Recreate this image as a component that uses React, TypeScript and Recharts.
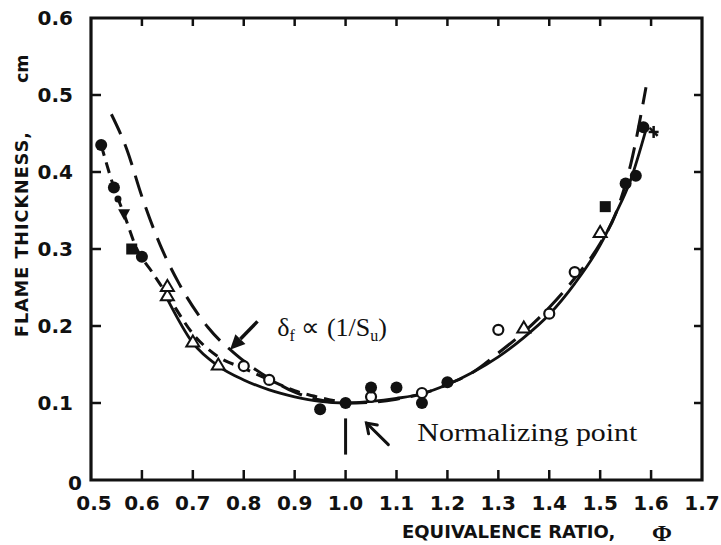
import React from 'react';
import { ComposedChart, Line, Scatter, XAxis, YAxis, ReferenceLine, ReferenceDot } from 'recharts';

// ---------- data ----------
const X_TICKS = [0.5, 0.6, 0.7, 0.8, 0.9, 1.0, 1.1, 1.2, 1.3, 1.4, 1.5, 1.6, 1.7];
const Y_TICKS = [0, 0.1, 0.2, 0.3, 0.4, 0.5, 0.6];
const X_DOMAIN: [number, number] = [0.5, 1.7];
const Y_DOMAIN: [number, number] = [0, 0.6];

// long-dashed curve: delta_f proportional to 1/Su
const SU_CURVE: [number, number][] = [
  [0.54, 0.475], [0.57, 0.43], [0.6, 0.368], [0.636, 0.305], [0.673, 0.255], [0.73, 0.198],
  [0.79, 0.16], [0.85, 0.132], [0.9, 0.114], [0.95, 0.104], [1.0, 0.1], [1.05, 0.101],
  [1.1, 0.105], [1.15, 0.112], [1.2, 0.124], [1.25, 0.14], [1.3, 0.165], [1.35, 0.192],
  [1.4, 0.224], [1.45, 0.262], [1.5, 0.307], [1.53, 0.345], [1.56, 0.41], [1.59, 0.51],
];

// short-dashed curve through lean data
const LEAN_FIT: [number, number][] = [
  [0.52, 0.435], [0.545, 0.38], [0.565, 0.345], [0.59, 0.3], [0.62, 0.27], [0.65, 0.24],
  [0.7, 0.19], [0.75, 0.16], [0.8, 0.145], [0.85, 0.13], [0.9, 0.116], [0.95, 0.107], [1.0, 0.1],
];

// solid curve
const SOLID_FIT: [number, number][] = [
  [0.65, 0.235], [0.7, 0.178], [0.75, 0.148], [0.8, 0.13], [0.85, 0.117], [0.9, 0.108],
  [0.95, 0.102], [1.0, 0.1], [1.05, 0.102], [1.1, 0.106], [1.15, 0.112], [1.2, 0.124],
  [1.25, 0.14], [1.3, 0.16], [1.35, 0.185], [1.4, 0.215], [1.45, 0.255], [1.5, 0.305],
  [1.53, 0.345], [1.56, 0.39], [1.59, 0.455],
];

const FILLED_CIRCLES: [number, number][] = [
  [0.52, 0.435], [0.545, 0.38], [0.6, 0.29], [0.95, 0.092], [1.0, 0.1], [1.05, 0.12],
  [1.1, 0.12], [1.15, 0.1], [1.2, 0.127], [1.55, 0.385], [1.57, 0.395], [1.585, 0.458],
];
const SMALL_DOTS: [number, number][] = [[0.553, 0.365]];
const FILLED_TRIANGLES: [number, number][] = [[0.565, 0.345]];
const FILLED_SQUARES: [number, number][] = [[0.58, 0.3], [1.51, 0.355]];
const OPEN_TRIANGLES: [number, number][] = [
  [0.65, 0.24], [0.65, 0.252], [0.7, 0.18], [0.75, 0.15], [1.35, 0.198], [1.5, 0.322],
];
const OPEN_CIRCLES: [number, number][] = [
  [0.8, 0.148], [0.85, 0.13], [1.05, 0.108], [1.15, 0.113], [1.3, 0.195], [1.4, 0.216], [1.45, 0.27],
];
const CROSSES: [number, number][] = [[1.605, 0.452]];

// annotations (data coordinates)
const SU_LABEL = { x: 0.866, y: 0.1875 };
const SU_ARROW: [number, number][] = [[0.827, 0.206], [0.773, 0.169]];
const NORM_LABEL = { x: 1.141, y: 0.051, text: 'Normalizing point' };
const NORM_ARROW: [number, number][] = [[1.084, 0.046], [1.041, 0.074]];
const NORM_STEM: [number, number][] = [[1.0, 0.08], [1.0, 0.033]];

const toPts = (a: [number, number][]) => a.map(([x, y]) => ({ x, y }));

// ---------- layout ----------
const W = 721;
const H = 545;
const PL = 91;
const PR = 701;
const PT = 19;
const PB = 480;
const AX = 1;
const M = { top: PT - AX, right: W - PR - AX, bottom: H - PB - AX, left: PL - AX };
const SANS = 'DejaVu Sans, sans-serif';
const SERIF = 'Liberation Serif, Times New Roman, serif';
const INK = '#111';

const near = (a: number, b: number) => Math.abs(a - b) < 1e-6;
const [X0, X1] = X_DOMAIN;
const [Y0, Y1] = Y_DOMAIN;
const INNER_X = X_TICKS.filter((v) => !near(v, X0) && !near(v, X1));
const INNER_Y = Y_TICKS.filter((v) => !near(v, Y0) && !near(v, Y1));

// plot frame as a closed outline in data space; inward tick marks placed on it
const FRAME = [{ x: X0, y: Y0 }, { x: X1, y: Y0 }, { x: X1, y: Y1 }, { x: X0, y: Y1 }, { x: X0, y: Y0 }];
const BOTTOM_TICK_PTS = INNER_X.map((x) => ({ x, y: Y0 }));
const TOP_TICK_PTS = INNER_X.map((x) => ({ x, y: Y1 }));
const LEFT_TICK_PTS = INNER_Y.map((y) => ({ x: X0, y }));
const RIGHT_TICK_PTS = INNER_Y.map((y) => ({ x: X1, y }));

const BottomTick = (p: any) => {
  const v = p.payload.value;
  return (
    <text x={p.x + (near(v, 0.5) ? 3 : 0)} y={PB + 30} textAnchor="middle" fontFamily={SANS}
      fontWeight="bold" fontSize={20} fill={INK}>{v.toFixed(1)}</text>
  );
};

const LeftTick = (p: any) => {
  const v = p.payload.value;
  if (near(v, 0)) {
    return (
      <text x={PL - 9} y={p.y + 10} textAnchor="end" fontFamily={SANS} fontWeight="bold"
        fontSize={20} fill={INK}>0</text>
    );
  }
  return (
    <text x={PL - 18} y={p.y + 7} textAnchor="end" fontFamily={SANS} fontWeight="bold"
      fontSize={20} fill={INK}>{v.toFixed(1)}</text>
  );
};

const tickUp = (p: any) => <line x1={p.cx} x2={p.cx} y1={p.cy} y2={p.cy - 10} stroke={INK} strokeWidth={2.5} />;
const tickDown = (p: any) => <line x1={p.cx} x2={p.cx} y1={p.cy} y2={p.cy + 8} stroke={INK} strokeWidth={2.5} />;
const tickRight = (p: any) => <line x1={p.cx} x2={p.cx + 10} y1={p.cy} y2={p.cy} stroke={INK} strokeWidth={2.5} />;
const tickLeft = (p: any) => <line x1={p.cx} x2={p.cx - 8} y1={p.cy} y2={p.cy} stroke={INK} strokeWidth={2.5} />;

const filledCircle = (p: any) => <circle cx={p.cx} cy={p.cy} r={6} fill={INK} />;
const smallDot = (p: any) => <circle cx={p.cx} cy={p.cy} r={3.5} fill={INK} />;
const openCircle = (p: any) => (
  <circle cx={p.cx} cy={p.cy} r={5} fill="#fff" stroke={INK} strokeWidth={2.2} />
);
const openTriangle = (p: any) => (
  <polygon points={`${p.cx - 6.5},${p.cy + 5} ${p.cx + 6.5},${p.cy + 5} ${p.cx},${p.cy - 6}`}
    fill="#fff" stroke={INK} strokeWidth={2} />
);
const filledTriangle = (p: any) => (
  <polygon points={`${p.cx - 6},${p.cy - 5} ${p.cx + 6},${p.cy - 5} ${p.cx},${p.cy + 6}`} fill={INK} />
);
const filledSquare = (p: any) => (
  <rect x={p.cx - 5.5} y={p.cy - 5.5} width={11} height={11} fill={INK} />
);
const cross = (p: any) => (
  <g stroke={INK} strokeWidth={2.5}>
    <line x1={p.cx - 5} x2={p.cx + 5} y1={p.cy} y2={p.cy} />
    <line x1={p.cx} x2={p.cx} y1={p.cy - 6} y2={p.cy + 6} />
    <line x1={p.cx - 4} x2={p.cx + 4} y1={p.cy - 4} y2={p.cy + 4} />
  </g>
);

const getEnds = (p: any) => {
  const x1 = Number(p.x1 ?? p.points?.[0]?.x);
  const y1 = Number(p.y1 ?? p.points?.[0]?.y);
  const x2 = Number(p.x2 ?? p.points?.[1]?.x);
  const y2 = Number(p.y2 ?? p.points?.[1]?.y);
  return { x1, y1, x2, y2 };
};
const bad = (e: any) => [e.x1, e.y1, e.x2, e.y2].some((v) => !isFinite(v));

const StemLine = (p: any) => {
  const e = getEnds(p);
  if (bad(e)) return <g />;
  return <line x1={e.x1} y1={e.y1} x2={e.x2} y2={e.y2} stroke={INK} strokeWidth={3} />;
};

const SolidArrow = (p: any) => {
  const e = getEnds(p);
  if (bad(e)) return <g />;
  const { x1, y1, x2, y2 } = e;
  const a = Math.atan2(y2 - y1, x2 - x1);
  const L = 15, Wd = 7;
  const bx = x2 - L * Math.cos(a), by = y2 - L * Math.sin(a);
  const nx = -Math.sin(a), ny = Math.cos(a);
  return (
    <g>
      <line x1={x1} y1={y1} x2={bx} y2={by} stroke={INK} strokeWidth={3.5} />
      <polygon points={`${x2},${y2} ${bx + nx * Wd},${by + ny * Wd} ${bx - nx * Wd},${by - ny * Wd}`} fill={INK} />
    </g>
  );
};

const OpenArrow = (p: any) => {
  const e = getEnds(p);
  if (bad(e)) return <g />;
  const { x1, y1, x2, y2 } = e;
  const a = Math.atan2(y2 - y1, x2 - x1);
  const L = 11;
  const h1x = x2 - L * Math.cos(a - 0.6), h1y = y2 - L * Math.sin(a - 0.6);
  const h2x = x2 - L * Math.cos(a + 0.6), h2y = y2 - L * Math.sin(a + 0.6);
  return (
    <g stroke={INK} strokeWidth={3} strokeLinecap="round" fill="none">
      <line x1={x1} y1={y1} x2={x2} y2={y2} />
      <polyline points={`${h1x},${h1y} ${x2},${y2} ${h2x},${h2y}`} />
    </g>
  );
};

const SuLabel = (p: any) => (
  <text x={p.cx} y={p.cy} fontFamily={SERIF} fontSize={26} fill={INK}>
    δ<tspan fontSize={16} dy={5}>f</tspan>
    <tspan dy={-5}>{' ∝ (1/S'}</tspan>
    <tspan fontSize={16} dy={5}>u</tspan>
    <tspan dy={-5}>)</tspan>
  </text>
);

const NormLabel = (p: any) => (
  <text x={p.cx} y={p.cy} fontFamily={SERIF} fontSize={26} fill={INK}
    textLength={220} lengthAdjust="spacingAndGlyphs">{NORM_LABEL.text}</text>
);

export default function App() {
  return (
    <div style={{ position: 'absolute', left: 0, top: 0, width: W, height: H, background: '#fff' }}>
      <ComposedChart width={W} height={H} margin={M}>
        <XAxis dataKey="x" type="number" domain={X_DOMAIN} ticks={X_TICKS}
          interval={0} height={AX} tickLine={false} axisLine={false}
          tick={(p: any) => <BottomTick {...p} />} />
        <YAxis dataKey="y" type="number" domain={Y_DOMAIN} ticks={Y_TICKS}
          interval={0} width={AX} tickLine={false} axisLine={false}
          tick={(p: any) => <LeftTick {...p} />} />

        {/* frame and inward ticks */}
        <Line data={FRAME} dataKey="y" type="linear" stroke={INK} strokeWidth={3.2}
          strokeLinejoin="miter" strokeLinecap="square" dot={false} isAnimationActive={false} />
        <Scatter data={BOTTOM_TICK_PTS} dataKey="y" shape={tickUp} isAnimationActive={false} />
        <Scatter data={TOP_TICK_PTS} dataKey="y" shape={tickDown} isAnimationActive={false} />
        <Scatter data={LEFT_TICK_PTS} dataKey="y" shape={tickRight} isAnimationActive={false} />
        <Scatter data={RIGHT_TICK_PTS} dataKey="y" shape={tickLeft} isAnimationActive={false} />

        <Line data={toPts(SU_CURVE)} dataKey="y" type="monotone" stroke={INK} strokeWidth={3}
          strokeDasharray="22 11" dot={false} isAnimationActive={false} />
        <Line data={toPts(LEAN_FIT)} dataKey="y" type="monotone" stroke={INK} strokeWidth={3}
          strokeDasharray="11 7" dot={false} isAnimationActive={false} />
        <Line data={toPts(SOLID_FIT)} dataKey="y" type="monotone" stroke={INK} strokeWidth={2.8}
          dot={false} isAnimationActive={false} />

        <Scatter data={toPts(OPEN_CIRCLES)} dataKey="y" shape={openCircle} isAnimationActive={false} />
        <Scatter data={toPts(OPEN_TRIANGLES)} dataKey="y" shape={openTriangle} isAnimationActive={false} />
        <Scatter data={toPts(FILLED_CIRCLES)} dataKey="y" shape={filledCircle} isAnimationActive={false} />
        <Scatter data={toPts(SMALL_DOTS)} dataKey="y" shape={smallDot} isAnimationActive={false} />
        <Scatter data={toPts(FILLED_TRIANGLES)} dataKey="y" shape={filledTriangle} isAnimationActive={false} />
        <Scatter data={toPts(FILLED_SQUARES)} dataKey="y" shape={filledSquare} isAnimationActive={false} />
        <Scatter data={toPts(CROSSES)} dataKey="y" shape={cross} isAnimationActive={false} />

        <ReferenceLine segment={toPts(SU_ARROW)} shape={SolidArrow} ifOverflow="visible" />
        <ReferenceLine segment={toPts(NORM_ARROW)} shape={OpenArrow} ifOverflow="visible" />
        <ReferenceLine segment={toPts(NORM_STEM)} shape={StemLine} ifOverflow="visible" />
        <ReferenceDot x={SU_LABEL.x} y={SU_LABEL.y} r={0} shape={SuLabel} ifOverflow="visible" />
        <ReferenceDot x={NORM_LABEL.x} y={NORM_LABEL.y} r={0} shape={NormLabel} ifOverflow="visible" />
      </ComposedChart>
      <svg width={W} height={H} style={{ position: 'absolute', left: 0, top: 0, pointerEvents: 'none' }}>
        <text x={28} y={337} transform="rotate(-90 28 337)" fontFamily={SANS} fontWeight="bold"
          fontSize={17.5} fill={INK} textLength={205} lengthAdjust="spacing">FLAME THICKNESS,</text>
        <text x={28} y={83} transform="rotate(-90 28 83)" fontFamily={SANS} fontWeight="bold"
          fontSize={17.5} fill={INK}>cm</text>
        <text x={402} y={538} fontFamily={SANS} fontWeight="bold" fontSize={18} fill={INK}>EQUIVALENCE RATIO,</text>
        <text x={662} y={541} textAnchor="middle" fontFamily={SERIF} fontWeight="bold" fontSize={24} fill={INK}>Φ</text>
      </svg>
    </div>
  );
}
